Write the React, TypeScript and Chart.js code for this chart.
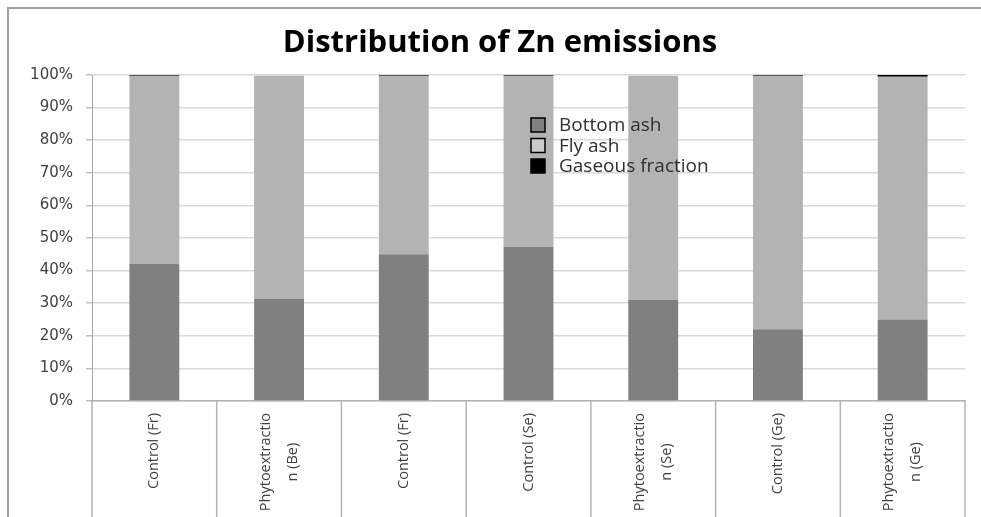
import React, { useEffect, useRef } from "react";
import { Chart, registerables } from "chart.js";

Chart.register(...registerables);

const TITLE = "Distribution of Zn emissions";
const categories: string[][] = [
  ["Control (Fr)"],
  ["Phytoextractio", "n (Be)"],
  ["Control (Fr)"],
  ["Control (Se)"],
  ["Phytoextractio", "n (Se)"],
  ["Control (Ge)"],
  ["Phytoextractio", "n (Ge)"],
];
const seriesNames = ["Bottom ash", "Fly ash", "Gaseous fraction"];
const bottomAsh = [42, 31.3, 45, 47.3, 31, 22, 25];
const flyAsh = [57.8, 68.5, 54.8, 52.5, 68.8, 77.8, 74.5];
const gaseous = [0.2, 0, 0.2, 0.2, 0, 0.2, 0.5];
const yTickValues = [0, 10, 20, 30, 40, 50, 60, 70, 80, 90, 100];

const barColors = ["#808080", "#b3b3b3", "#000000"];
const legendFills = ["#808080", "#cccccc", "#000000"];

const framePlugin = {
  id: "frame",
  beforeDraw(chart: any) {
    const ctx = chart.ctx;
    ctx.save();
    ctx.fillStyle = "#ffffff";
    ctx.fillRect(0, 0, chart.width, chart.height);
    ctx.strokeStyle = "#a0a0a0";
    ctx.lineWidth = 2;
    ctx.strokeRect(8, 8, chart.width + 40, chart.height + 40);
    ctx.restore();
  },
};

const titlePlugin = {
  id: "customTitle",
  afterDraw(chart: any) {
    const ctx = chart.ctx;
    ctx.save();
    ctx.fillStyle = "#000000";
    ctx.font = 'bold 31px "Open Sans"';
    ctx.textAlign = "center";
    ctx.textBaseline = "middle";
    ctx.fillText(TITLE, 500, 43);
    ctx.restore();
  },
};

const categoryAxisPlugin = {
  id: "categoryAxis",
  afterDraw(chart: any) {
    const ctx = chart.ctx;
    const xs = chart.scales.x;
    const area = chart.chartArea;
    const n = categories.length;
    const w = xs.getPixelForValue(1) - xs.getPixelForValue(0);
    ctx.save();
    ctx.strokeStyle = "#b3b3b3";
    ctx.lineWidth = 1.5;
    for (let i = 0; i <= n; i++) {
      const x = xs.getPixelForValue(0) - w / 2 + i * w;
      ctx.beginPath();
      ctx.moveTo(x, area.bottom);
      ctx.lineTo(x, chart.height);
      ctx.stroke();
    }
    ctx.fillStyle = "#404040";
    ctx.font = '14.5px "Open Sans"';
    const spacing = 27;
    const top = area.bottom + 12;
    categories.forEach((lines, i) => {
      const cx = xs.getPixelForValue(i);
      const W = Math.max(...lines.map((l) => ctx.measureText(l).width));
      lines.forEach((line, j) => {
        const off = (j - (lines.length - 1) / 2) * spacing;
        ctx.save();
        ctx.translate(cx + off, top);
        ctx.rotate(-Math.PI / 2);
        ctx.textAlign = "center";
        ctx.textBaseline = "middle";
        ctx.fillText(line, -W / 2, 0);
        ctx.restore();
      });
    });
    ctx.restore();
  },
};

const innerLegendPlugin = {
  id: "innerLegend",
  afterDatasetsDraw(chart: any) {
    const ctx = chart.ctx;
    const x0 = 531;
    const y0 = 118;
    const row = 20.5;
    ctx.save();
    ctx.font = '19px "Open Sans"';
    ctx.textBaseline = "middle";
    ctx.textAlign = "left";
    seriesNames.forEach((name, i) => {
      const y = y0 + i * row;
      ctx.fillStyle = legendFills[i];
      ctx.fillRect(x0, y, 14, 14);
      ctx.strokeStyle = "#000000";
      ctx.lineWidth = 1.5;
      ctx.strokeRect(x0, y, 14, 14);
      ctx.fillStyle = "#303030";
      ctx.fillText(name, x0 + 28, y + 8);
    });
    ctx.restore();
  },
};

export default function App() {
  const ref = useRef<HTMLCanvasElement | null>(null);
  useEffect(() => {
    if (!ref.current) return;
    const chart = new Chart(ref.current, {
      type: "bar",
      data: {
        labels: categories.map((c) => c.join(" ")),
        datasets: [
          { label: seriesNames[0], data: bottomAsh, backgroundColor: barColors[0], stack: "s" },
          { label: seriesNames[1], data: flyAsh, backgroundColor: barColors[1], stack: "s" },
          { label: seriesNames[2], data: gaseous, backgroundColor: barColors[2], stack: "s" },
        ],
      },
      options: {
        responsive: false,
        animation: false,
        layout: { padding: { top: 75, left: 0, right: 16, bottom: 0 } },
        datasets: { bar: { barPercentage: 0.4, categoryPercentage: 1, borderWidth: 0 } },
        plugins: {
          legend: { display: false },
          tooltip: { enabled: false },
          title: { display: false },
        },
        scales: {
          x: {
            stacked: true,
            grid: { display: false, drawTicks: false },
            border: { display: true, color: "#b3b3b3", width: 1.5 },
            ticks: { display: false },
            afterFit: (s: any) => {
              s.height = 116;
            },
          },
          y: {
            stacked: true,
            min: 0,
            max: 100,
            afterBuildTicks: (s: any) => {
              s.ticks = yTickValues.map((v) => ({ value: v }));
            },
            ticks: {
              callback: (v: any) => v + "%",
              color: "#404040",
              font: { family: "DejaVu Sans", size: 15 },
              padding: 13,
            },
            grid: { color: "#d9d9d9", lineWidth: 1.5, tickLength: 6, tickColor: "#bfbfbf" },
            border: { display: true, color: "#a6a6a6", width: 1 },
            afterFit: (s: any) => {
              s.width = 92;
            },
          },
        },
      },
      plugins: [framePlugin, titlePlugin, categoryAxisPlugin, innerLegendPlugin],
    });
    return () => chart.destroy();
  }, []);
  return (
    <canvas
      ref={ref}
      width={981}
      height={517}
      style={{ position: "fixed", left: 0, top: 0, display: "block" }}
    />
  );
}
